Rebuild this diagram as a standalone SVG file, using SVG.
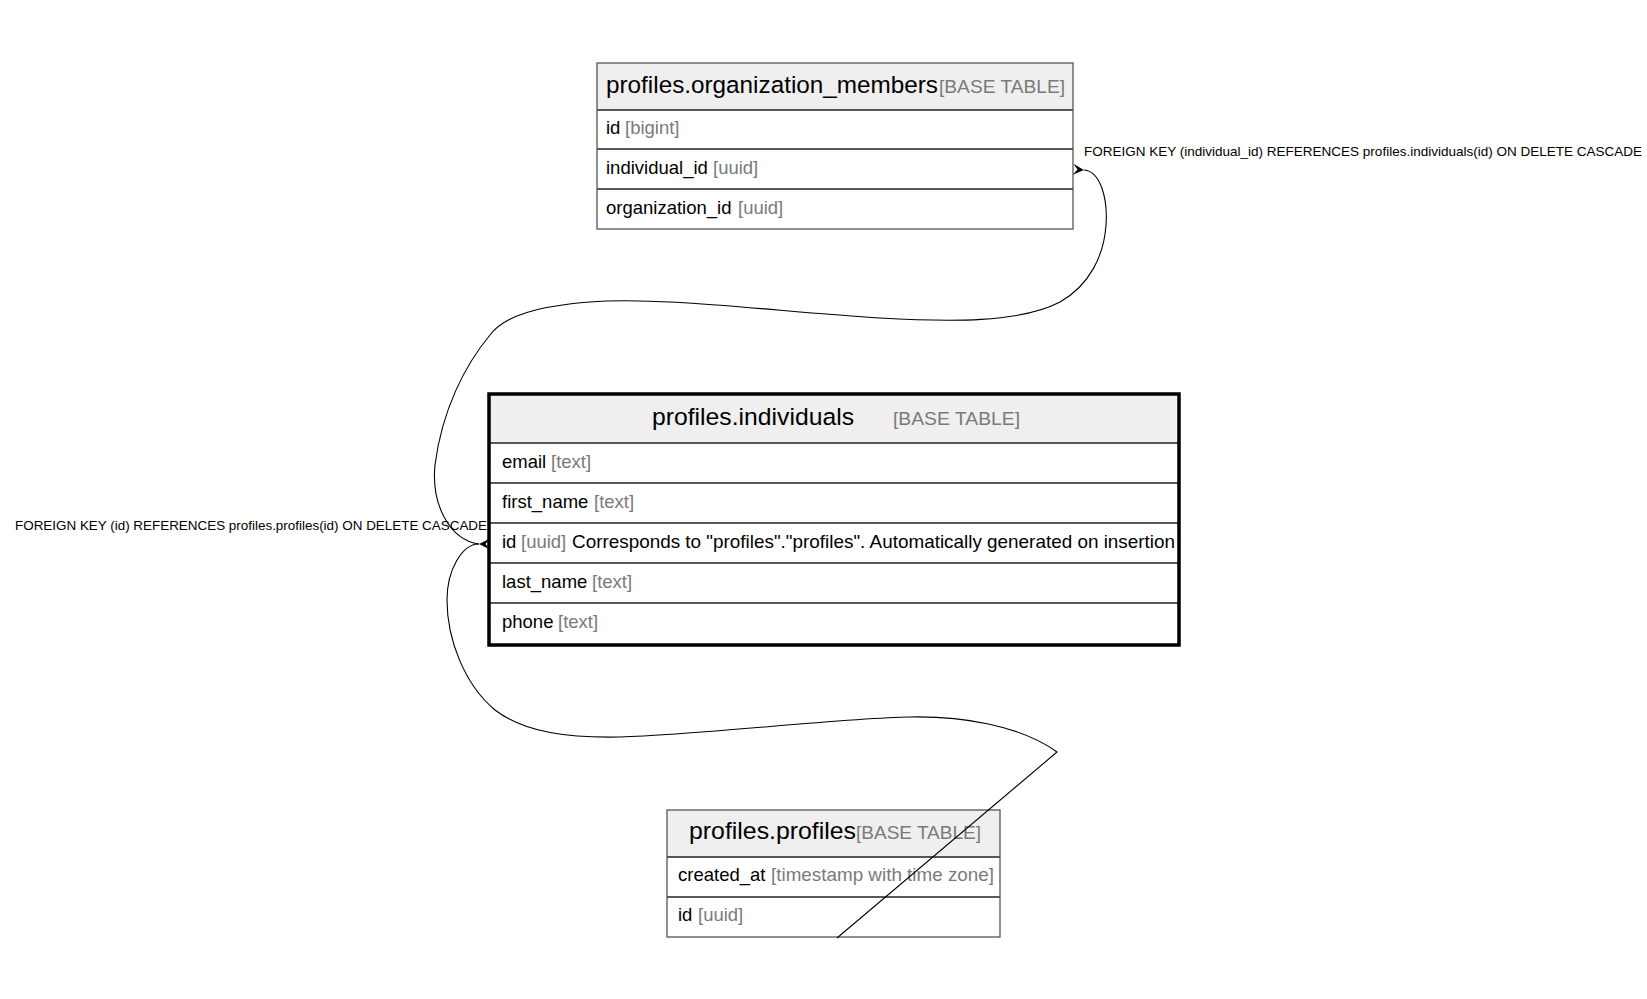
<svg xmlns="http://www.w3.org/2000/svg" width="1647" height="999" viewBox="0 0 1647 999">
<style>
  text { font-family: "Liberation Sans", Arial, sans-serif; fill: #000; }
  .hdrfill { fill: #efefef; }
  .bg { fill: #fff; }
  .thin { fill: none; stroke: #555; stroke-width: 1.3; }
  .thick { fill: none; stroke: #000; stroke-width: 3.5; }
  .sep { stroke: #222; stroke-width: 1.5; }
  .title { font-size: 24.5px; }
  .tag { font-size: 18px; fill: #7a7a7a; }
  .row { font-size: 18.5px; }
  .type { fill: #7a7a7a; }
  .edge { fill: none; stroke: #000; stroke-width: 1.1; }
  .lbl { font-size: 13.5px; }
</style>
<defs>
  <marker id="vee" markerUnits="userSpaceOnUse" markerWidth="14" markerHeight="14" refX="11" refY="5.5" orient="auto">
    <path d="M0,0 L11,5.5 L0,11 L4.5,5.5 Z" fill="#000"/>
  </marker>
</defs>
<rect width="1647" height="999" fill="#fff"/>

<g id="organization_members">
  <rect x="597" y="63" width="476" height="166" class="bg"/>
  <rect x="597" y="63" width="476" height="47" class="hdrfill"/>
  <line x1="597" y1="110" x2="1073" y2="110" class="sep"/>
  <line x1="597" y1="149" x2="1073" y2="149" class="sep"/>
  <line x1="597" y1="189" x2="1073" y2="189" class="sep"/>
  <rect x="597" y="63" width="476" height="166" class="thin"/>
  <text x="606" y="93" class="title" textLength="332" lengthAdjust="spacingAndGlyphs">profiles.organization_members</text>
  <text x="939" y="93" class="tag" textLength="126" lengthAdjust="spacingAndGlyphs">[BASE TABLE]</text>
  <text x="606" y="134" class="row">id <tspan x="625" class="type">[bigint]</tspan></text>
  <text x="606" y="174" class="row">individual_id<tspan x="713" class="type">[uuid]</tspan></text>
  <text x="606" y="214" class="row">organization_id<tspan x="738" class="type">[uuid]</tspan></text>
</g>

<g id="individuals">
  <rect x="489" y="394" width="690" height="251" class="bg"/>
  <rect x="489" y="394" width="690" height="49" class="hdrfill"/>
  <line x1="489" y1="443" x2="1179" y2="443" class="sep"/>
  <line x1="489" y1="483" x2="1179" y2="483" class="sep"/>
  <line x1="489" y1="523" x2="1179" y2="523" class="sep"/>
  <line x1="489" y1="563" x2="1179" y2="563" class="sep"/>
  <line x1="489" y1="603" x2="1179" y2="603" class="sep"/>
  <rect x="489" y="394" width="690" height="251" class="thick"/>
  <text x="652" y="425" class="title" textLength="202" lengthAdjust="spacingAndGlyphs">profiles.individuals</text>
  <text x="893" y="425" class="tag" textLength="127" lengthAdjust="spacingAndGlyphs">[BASE TABLE]</text>
  <text x="502" y="468" class="row">email<tspan x="551" class="type">[text]</tspan></text>
  <text x="502" y="508" class="row">first_name<tspan x="594" class="type">[text]</tspan></text>
  <text x="502" y="548" class="row">id<tspan x="521" class="type">[uuid]</tspan><tspan x="572" textLength="603" lengthAdjust="spacingAndGlyphs">Corresponds to "profiles"."profiles". Automatically generated on insertion</tspan></text>
  <text x="502" y="588" class="row">last_name<tspan x="592" class="type">[text]</tspan></text>
  <text x="502" y="628" class="row">phone<tspan x="558" class="type">[text]</tspan></text>
</g>

<g id="profiles">
  <rect x="667" y="810" width="333" height="127" class="bg"/>
  <rect x="667" y="810" width="333" height="47" class="hdrfill"/>
  <line x1="667" y1="857" x2="1000" y2="857" class="sep"/>
  <line x1="667" y1="897" x2="1000" y2="897" class="sep"/>
  <rect x="667" y="810" width="333" height="127" class="thin"/>
  <text x="689" y="839" class="title" textLength="167" lengthAdjust="spacingAndGlyphs">profiles.profiles</text>
  <text x="856" y="839" class="tag" textLength="125" lengthAdjust="spacingAndGlyphs">[BASE TABLE]</text>
  <text x="678" y="881" class="row">created_at<tspan x="771" class="type" textLength="223" lengthAdjust="spacingAndGlyphs">[timestamp with time zone]</tspan></text>
  <text x="678" y="921" class="row">id<tspan x="698" class="type">[uuid]</tspan></text>
</g>

<g id="connectors">
  <path class="edge" marker-start="url(#vee)" d="M1084,170 C1100,171 1108,198 1106,225 C1104,255 1090,285 1060,302 C1020,323 950,322 880,318 C780,312 660,296 590,302 C540,306 505,315 490,335 C465,365 442,410 435,465 C431,505 450,540 479,544"/>
  <path class="edge" marker-start="url(#vee)" d="M479,544 C462,544 447,570 447,600 C447,640 465,685 495,710 C525,733 570,738 620,737 C700,735 840,718 910,717 C960,716 1020,725 1057,752 L837,938"/>
  <text x="1084" y="156" class="lbl" textLength="558" lengthAdjust="spacingAndGlyphs">FOREIGN KEY (individual_id) REFERENCES profiles.individuals(id) ON DELETE CASCADE</text>
  <text x="15" y="530" class="lbl" textLength="472" lengthAdjust="spacingAndGlyphs">FOREIGN KEY (id) REFERENCES profiles.profiles(id) ON DELETE CASCADE</text>
</g>
</svg>
